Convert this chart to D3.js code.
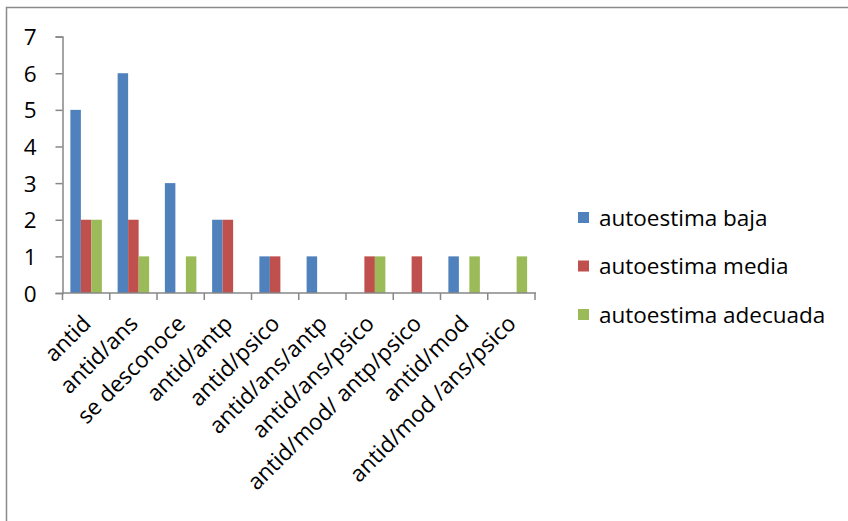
<!DOCTYPE html>
<html>
<head>
<meta charset="utf-8">
<script src="https://cdn.jsdelivr.net/npm/d3@7"></script>
<style>
  html, body { margin: 0; padding: 0; background: #fff; }
  svg { display: block; }
  text { font-family: "Open Sans", Lato, sans-serif; fill: #000; font-size: 22.5px; }
</style>
</head>
<body>
<svg id="chart" width="848" height="521"></svg>
<script>
// Tratamiento recibido por categoría
const categories = [
  "antid", "antid/ans", "se desconoce", "antid/antp", "antid/psico",
  "antid/ans/antp", "antid/ans/psico", "antid/mod/ antp/psico",
  "antid/mod", "antid/mod /ans/psico"
];
const seriesNames = ["autoestima baja", "autoestima media", "autoestima adecuada"];
const baja     = [5, 6, 3, 2, 1, 1, 0, 0, 1, 0];
const media    = [2, 2, 0, 2, 1, 0, 1, 1, 0, 0];
const adecuada = [2, 1, 1, 0, 0, 0, 1, 0, 1, 1];
const yTicks = [0, 1, 2, 3, 4, 5, 6, 7];
const colors = ["#4F81BD", "#C0504D", "#9BBB59"];

const seriesValues = [baja, media, adecuada];
const rows = categories.map((c, i) => ({
  cat: c,
  vals: seriesValues.map((s, k) => ({ key: seriesNames[k], value: s[i], k }))
}));

const svg = d3.select("#chart");

// outer chart frame (continues past the right and bottom edges)
svg.append("path")
  .attr("d", "M6.5,530 L6.5,7.5 L860,7.5")
  .attr("fill", "none")
  .attr("stroke", "#8a8a8a")
  .attr("stroke-width", 1.5);

const plotLeft = 62.5, plotRight = 535, plotTop = 36.6, plotBottom = 293;

const x0 = d3.scaleBand().domain(categories).range([plotLeft, plotRight]).paddingInner(0).paddingOuter(0);
const bw = x0.bandwidth();
const x1 = d3.scaleBand().domain([0, 1, 2]).range([bw / 6, bw - bw / 6]).padding(0);
const y = d3.scaleLinear().domain([0, 7]).range([plotBottom, plotTop]);

// bars
const g = svg.append("g");
g.selectAll("g.cat")
  .data(rows)
  .join("g")
  .attr("class", "cat")
  .attr("transform", d => `translate(${x0(d.cat)},0)`)
  .selectAll("rect")
  .data(d => d.vals.filter(v => v.value > 0))
  .join("rect")
  .attr("x", v => x1(v.k))
  .attr("width", x1.bandwidth())
  .attr("y", v => y(v.value))
  .attr("height", v => y(0) - y(v.value))
  .attr("fill", v => colors[v.k]);

// y axis
const yAxis = d3.axisLeft(y).tickValues(yTicks).tickSize(7).tickPadding(19).tickFormat(d3.format("d"));
const ya = svg.append("g").attr("transform", `translate(${plotLeft},0)`).call(yAxis);
ya.select(".domain").attr("stroke", "#878787").attr("stroke-width", 1.5);
ya.selectAll(".tick line").attr("stroke", "#878787").attr("stroke-width", 1.5);
ya.selectAll(".tick text")
  .attr("font-family", null).attr("font-size", null)
  .attr("dy", "0.36em");

// x axis with boundary ticks between categories
const xa = svg.append("g").attr("transform", `translate(0,${plotBottom})`);
xa.append("line").attr("x1", plotLeft).attr("x2", plotRight + 1).attr("y1", 0).attr("y2", 0)
  .attr("stroke", "#878787").attr("stroke-width", 1.5);
const bounds = categories.map(c => x0(c)).concat([plotRight]);
xa.selectAll("line.tk").data(bounds).join("line").attr("class", "tk")
  .attr("x1", d => d).attr("x2", d => d).attr("y1", 0).attr("y2", 7)
  .attr("stroke", "#878787").attr("stroke-width", 1.5);
xa.selectAll("text").data(categories).join("text")
  .attr("transform", d => `translate(${x0(d) + bw / 2 + 6},${32}) rotate(-45)`)
  .attr("text-anchor", "end")
  .text(d => d);

// legend
const legend = svg.append("g").attr("transform", "translate(578,0)");
const ly = [218, 266.5, 315];
seriesNames.forEach((name, k) => {
  legend.append("rect").attr("x", 0).attr("y", ly[k] - 6).attr("width", 11).attr("height", 11).attr("fill", colors[k]);
  legend.append("text").attr("x", 21).attr("y", ly[k]).attr("dy", "0.35em").text(name);
});
</script>
</body>
</html>
